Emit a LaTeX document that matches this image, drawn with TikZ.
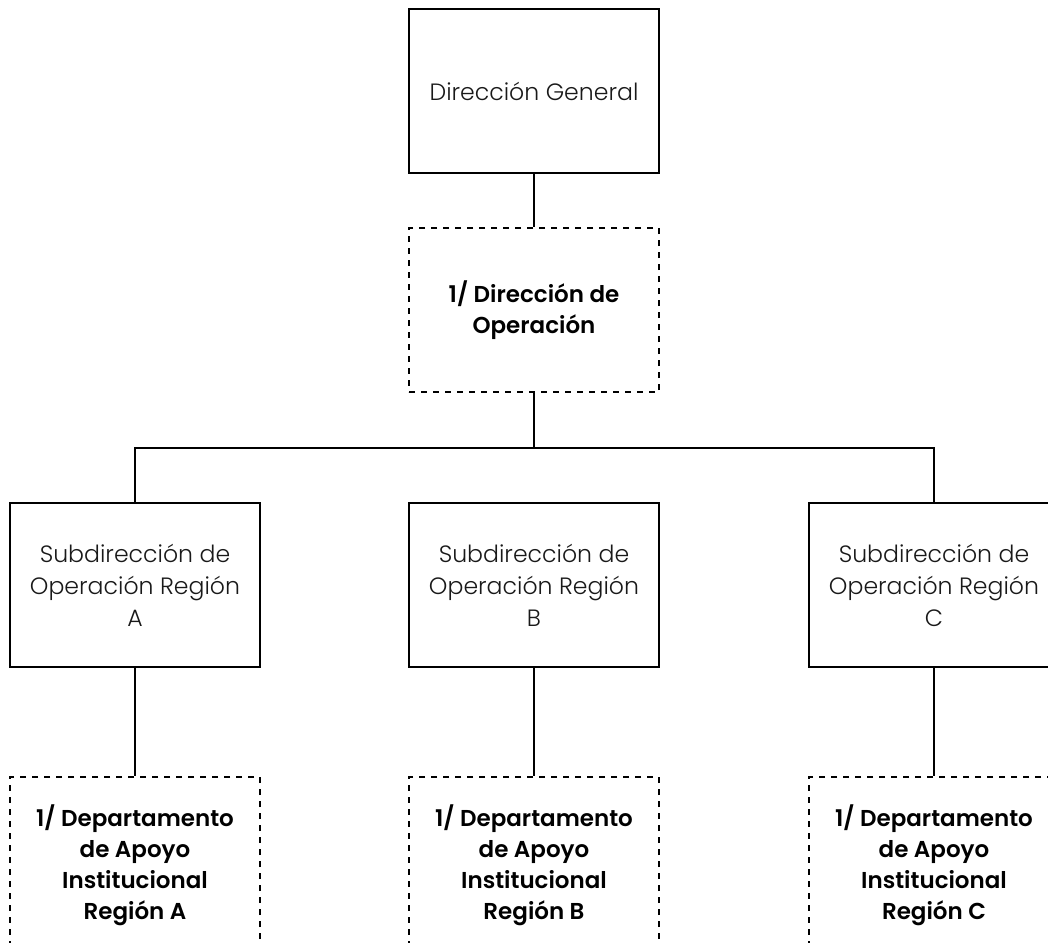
\documentclass[tikz,border=0pt]{standalone}
\usepackage{fontspec}
\setmainfont{Poppins}[UprightFont=* Light, BoldFont=* SemiBold]
\usetikzlibrary{positioning}

\begin{document}
\begin{tikzpicture}[
    x=0.5pt, y=-0.5pt,
    unit/.style={draw, thick, minimum width=125pt, minimum height=82pt, align=center, font=\fontsize{11.8}{16}\selectfont, text=black!90},
    support/.style={unit, dashed, font=\fontsize{11.5}{15.5}\selectfont\bfseries, text=black},
    link/.style={draw, thick}
]
\useasboundingbox (0,0) rectangle (1048,942);

% Define node positions
\node[unit] (DG) at (534, 91) {Dirección General};
\node[support] (DO) at (534, 310) {1/ Dirección de\\Operación};

\node[unit] (SA) at (135, 585) {Subdirección de\\Operación Región\\A};
\node[unit] (SB) at (534, 585) {Subdirección de\\Operación Región\\B};
\node[unit] (SC) at (934, 585) {Subdirección de\\Operación Región\\C};

\node[support, minimum height=88pt] (DA) at (135, 865) {1/ Departamento\\de Apoyo\\Institucional\\Región A};
\node[support, minimum height=88pt] (DB) at (534, 865) {1/ Departamento\\de Apoyo\\Institucional\\Región B};
\node[support, minimum height=88pt] (DC) at (934, 865) {1/ Departamento\\de Apoyo\\Institucional\\Región C};

% Bus line below the direction
\coordinate (bus) at (534, 448);

% Draw connections
\draw[link] (DG) -- (DO);
\draw[link] (DO) -- (bus);
\draw[link] (SA.north) |- (bus) -| (SC.north);
\draw[link] (SA) -- (DA);
\draw[link] (SB) -- (DB);
\draw[link] (SC) -- (DC);

\end{tikzpicture}
\end{document}
